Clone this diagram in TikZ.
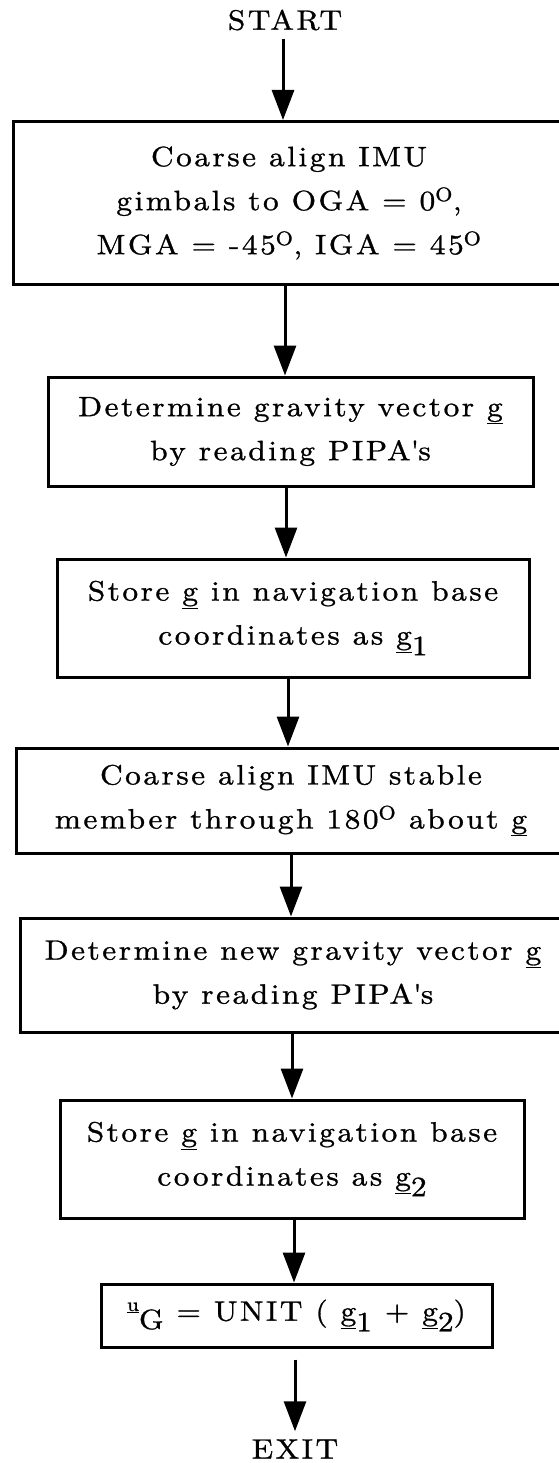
\documentclass[tikz,border=0pt]{standalone}
\usepackage{fontspec}
\setmainfont{lmroman10-regular.otf}[LetterSpace=9,FakeStretch=1.12,FakeBold=1]
\usetikzlibrary{arrows.meta}
\newcommand\ul[1]{\underline{#1}}
\newcommand\dgr{\textsuperscript{O}}
\newcommand\lsub[1]{\raisebox{-0.38em}{#1}}
\begin{document}
\begin{tikzpicture}[x=1pt,y=-1pt,
  every node/.style={font=\fontsize{28}{44}\selectfont},
  box/.style={draw,line width=3pt,align=center,inner sep=0pt},
  term/.style={inner sep=8pt},
  arr/.style={line width=3pt,-{Triangle[width=22pt,length=30pt]}}]
\useasboundingbox (0,0) rectangle (558,1463);
\fill[white] (0,0) rectangle (558,1463);

\node[term] (start) at (285,20) {START};
\node[box,minimum width=552pt,minimum height=163pt] (b1) at (289,203)
  {Coarse align IMU\\gimbals to OGA = 0\dgr,\\MGA = -45\dgr, IGA = 45\dgr};
\node[box,minimum width=485pt,minimum height=109pt] (b2) at (290.5,431.5)
  {Determine gravity vector \ul{g}\\by reading PIPA\textquotesingle s};
\node[box,minimum width=472pt,minimum height=118pt] (b3) at (293,618)
  {Store \ul{g} in navigation base\\coordinates as \ul{g}\lsub{1}};
\node[box,minimum width=550pt,minimum height=105pt] (b4) at (291,800.5)
  {Coarse align IMU stable\\member through 180\dgr{} about \ul{g}};
\node[box,minimum width=546pt,minimum height=114pt] (b5) at (293,975)
  {Determine new gravity vector \ul{g}\\by reading PIPA\textquotesingle s};
\node[box,minimum width=464pt,minimum height=118pt] (b6) at (292,1159)
  {Store \ul{g} in navigation base\\coordinates as \ul{g}\lsub{2}};
\node[box,minimum width=391pt,minimum height=63pt] (b7) at (296.5,1315.5)
  {\raisebox{0.35em}{\fontsize{19}{19}\selectfont\ul{u}}\raisebox{-0.3em}{G} = UNIT ( \ul{g}\lsub{1} + \ul{g}\lsub{2})};
\node[term] (exit) at (295,1449) {EXIT};

\coordinate (k0) at (283,0);
\coordinate (k1) at (285,0);
\coordinate (k2) at (286,0);
\coordinate (k3) at (288,0);
\coordinate (k4) at (291,0);
\coordinate (k5) at (292,0);
\coordinate (k6) at (294,0);
\coordinate (k7) at (295,0);

\draw[arr] (start.south -| k0) -- (b1.north -| k0);
\draw[arr] (b1.south -| k1) -- (b2.north -| k1);
\draw[arr] (b2.south -| k2) -- (b3.north -| k2);
\draw[arr] (b3.south -| k3) -- (b4.north -| k3);
\draw[arr] (b4.south -| k4) -- (b5.north -| k4);
\draw[arr] (b5.south -| k5) -- (b6.north -| k5);
\draw[arr] (b6.south -| k6) -- (b7.north -| k6);
\draw[arr,shorten <=11pt] (b7.south -| k7) -- (exit.north -| k7);
\end{tikzpicture}
\end{document}
